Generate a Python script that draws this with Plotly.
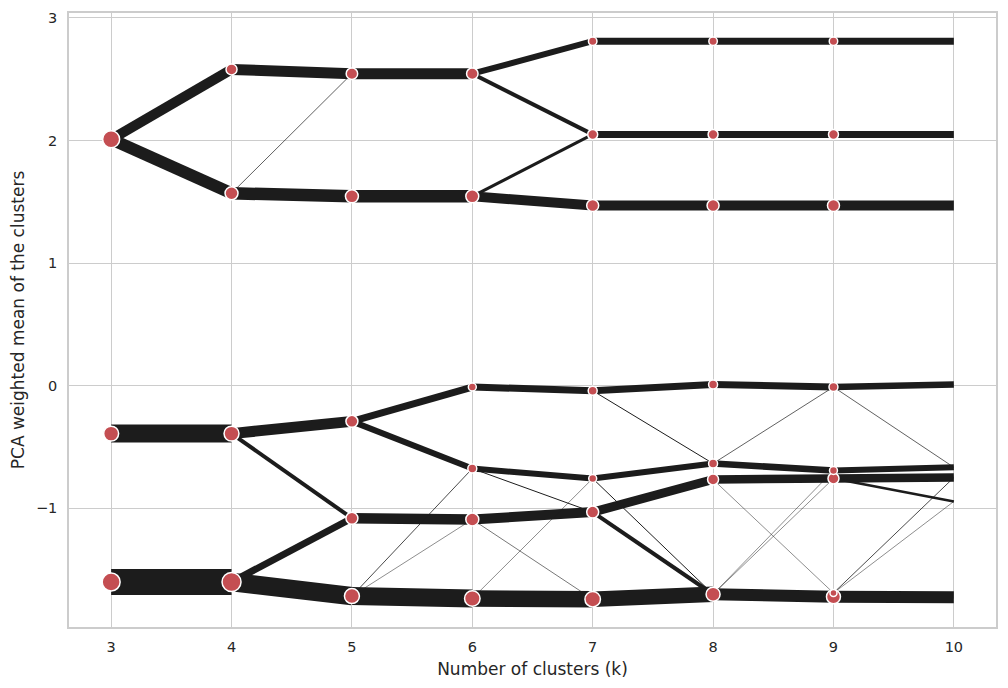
import plotly.graph_objects as go

# ---------------- data ----------------
k_values = [3, 4, 5, 6, 7, 8, 9, 10]

# PCA-weighted cluster means for each k
means_k3 = [2.01, -0.39, -1.60]
means_k4 = [2.58, 1.57, -0.39, -1.60]
means_k5 = [2.545, 1.545, -0.29, -1.08, -1.715]
means_k6 = [2.545, 1.545, -0.01, -0.675, -1.09, -1.735]
means_k7 = [2.81, 2.05, 1.47, -0.04, -0.756, -1.03, -1.74]
means_k8 = [2.81, 2.05, 1.47, 0.01, -0.634, -0.764, -1.70]
means_k9 = [2.81, 2.05, 1.47, -0.01, -0.691, -0.756, -1.69, -1.72]
means_k10 = [2.81, 2.05, 1.47, 0.01, -0.665, -0.748, -0.943, -1.724]

# cluster sizes (relative number of observations) for k = 3..9
sizes_k3 = [201, 156, 225]
sizes_k4 = [84, 117, 156, 251]
sizes_k5 = [92, 117, 100, 100, 156]
sizes_k6 = [92, 117, 44, 56, 117, 167]
sizes_k7 = [50, 69, 100, 56, 44, 100, 167]
sizes_k8 = [50, 69, 100, 56, 56, 84, 136]
sizes_k9 = [50, 69, 100, 56, 44, 84, 34, 136]

# shared observations between cluster i at k and cluster j at k+1
# (k_from, i, j, shared)
links_k3 = [(3, 0, 0, 100), (3, 0, 1, 120), (3, 1, 2, 180), (3, 2, 3, 260)]
links_k4 = [(4, 0, 0, 110), (4, 1, 0, 7), (4, 1, 1, 125), (4, 2, 2, 110),
            (4, 2, 3, 40), (4, 3, 3, 70), (4, 3, 4, 185)]
links_k5 = [(5, 0, 0, 110), (5, 1, 1, 125), (5, 2, 2, 70), (5, 2, 3, 60),
            (5, 3, 4, 105), (5, 4, 3, 8), (5, 4, 4, 5), (5, 4, 5, 180)]
links_k6 = [(6, 0, 0, 60), (6, 0, 1, 40), (6, 1, 1, 30), (6, 1, 2, 100),
            (6, 2, 3, 70), (6, 3, 4, 60), (6, 3, 5, 10), (6, 4, 5, 100),
            (6, 4, 6, 6), (6, 5, 4, 5), (6, 5, 6, 165)]
links_k7 = [(7, 0, 0, 70), (7, 1, 1, 70), (7, 2, 2, 100), (7, 3, 3, 70),
            (7, 3, 4, 10), (7, 4, 4, 60), (7, 4, 6, 10), (7, 5, 5, 90),
            (7, 5, 6, 40), (7, 6, 6, 155)]
links_k8 = [(8, 0, 0, 70), (8, 1, 1, 70), (8, 2, 2, 100), (8, 3, 3, 70),
            (8, 4, 3, 7), (8, 4, 4, 65), (8, 5, 5, 85), (8, 5, 6, 5),
            (8, 6, 4, 5), (8, 6, 5, 5), (8, 6, 6, 10), (8, 6, 7, 120)]
links_k9 = [(9, 0, 0, 70), (9, 1, 1, 70), (9, 2, 2, 100), (9, 3, 3, 65),
            (9, 3, 4, 7), (9, 4, 4, 60), (9, 5, 5, 85), (9, 5, 6, 25),
            (9, 6, 5, 8), (9, 6, 6, 5), (9, 7, 7, 120)]

x_title = "Number of clusters (k)"
y_title = "PCA weighted mean of the clusters"

# ---------------- build ----------------
means = dict(zip(k_values, [means_k3, means_k4, means_k5, means_k6,
                            means_k7, means_k8, means_k9, means_k10]))
sizes = dict(zip(k_values[:-1], [sizes_k3, sizes_k4, sizes_k5, sizes_k6,
                                 sizes_k7, sizes_k8, sizes_k9]))
links = links_k3 + links_k4 + links_k5 + links_k6 + links_k7 + links_k8 + links_k9

LINE_MULT = 0.1   # px per shared observation
SIZE_MULT = 1.2   # marker diameter per sqrt(size)

fig = go.Figure()
for (k, i, j, n) in links:
    fig.add_trace(go.Scatter(
        x=[k, k + 1], y=[means[k][i], means[k + 1][j]],
        mode="lines", line=dict(color="rgb(28,28,28)", width=n * LINE_MULT),
        hoverinfo="skip", showlegend=False))

for k in k_values[:-1]:
    # draw larger clusters first so small ones remain visible on top
    order = sorted(range(len(means[k])), key=lambda idx: -sizes[k][idx])
    fig.add_trace(go.Scatter(
        x=[k] * len(order), y=[means[k][idx] for idx in order], mode="markers",
        marker=dict(color="#C44E52", opacity=1,
                    size=[SIZE_MULT * sizes[k][idx] ** 0.5 for idx in order],
                    line=dict(color="white", width=1.5)),
        showlegend=False))

tick_font = dict(family="DejaVu Sans", size=14.5, color="#262626")
title_font = dict(family="DejaVu Sans", size=17, color="#262626")
axis_common = dict(showgrid=True, gridcolor="#cccccc", gridwidth=1,
                   zeroline=False, showline=True, linecolor="#cccccc",
                   linewidth=1.5, mirror=True, ticks="", tickfont=tick_font)

fig.update_layout(
    width=1008, height=688,
    margin=dict(l=69, r=10, t=11, b=61),
    paper_bgcolor="white", plot_bgcolor="white",
    xaxis=dict(range=[2.65, 10.35], tickvals=k_values, ticklabelstandoff=6,
               title=dict(text=x_title, standoff=9, font=title_font),
               **axis_common),
    yaxis=dict(range=[-1.967, 3.04], tickvals=[-1, 0, 1, 2, 3],
               ticklabelstandoff=7,
               title=dict(text=y_title, standoff=7, font=title_font),
               **axis_common),
)

fig.write_html("out.html")
